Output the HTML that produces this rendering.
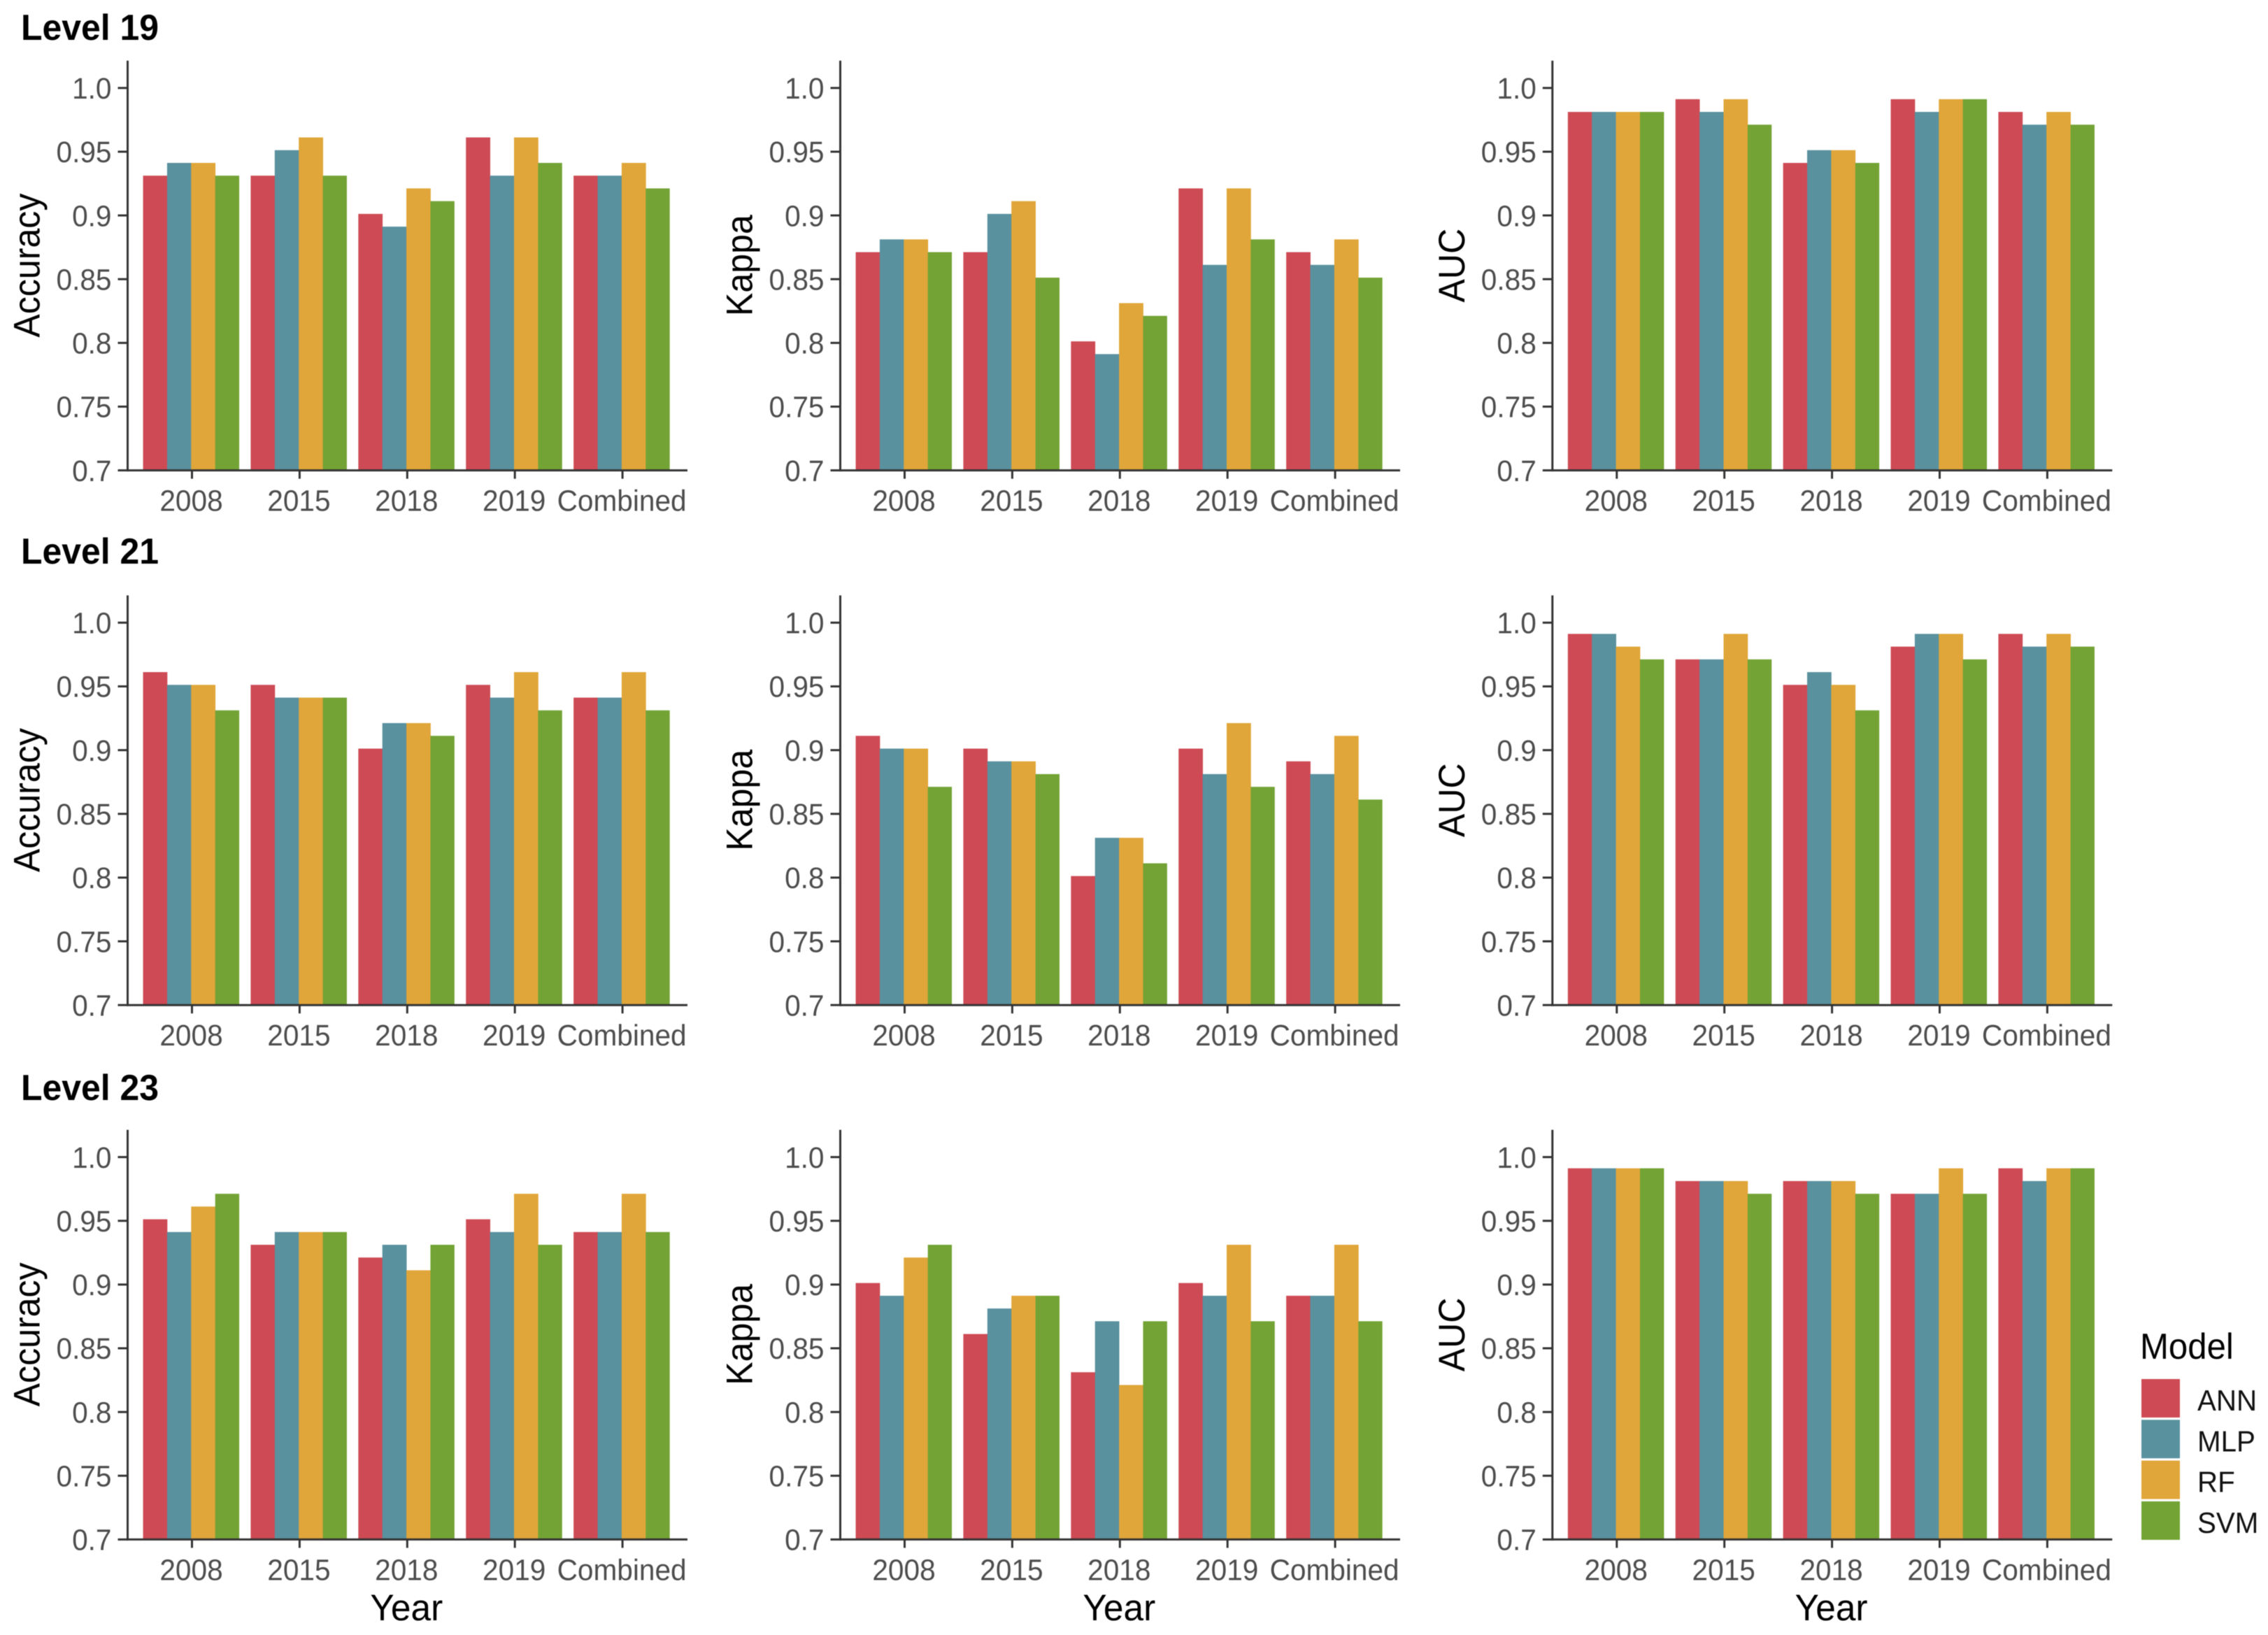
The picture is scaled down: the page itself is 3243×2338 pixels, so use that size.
<!DOCTYPE html>
<html lang="en">
<head>
<meta charset="utf-8">
<title>Model performance by level and year</title>
<style>
html,body{margin:0;padding:0;background:#fff;width:3243px;height:2338px;overflow:hidden}
svg{display:block;filter:blur(0.5px)}
text{font-family:"Liberation Sans",Arial,sans-serif;text-rendering:geometricPrecision}
</style>
</head>
<body>
<svg id="chart" width="3243" height="2338" viewBox="0 0 3243 2338" xmlns="http://www.w3.org/2000/svg"></svg>
<script>
const years = ["2008", "2015", "2018", "2019", "Combined"];
const models = ["ANN", "MLP", "RF", "SVM"];
const modelColors = ["#CE4B55", "#59919F", "#E0A63A", "#73A335"];
const tickValues = [1.0, 0.95, 0.9, 0.85, 0.8, 0.75, 0.7];
const tickLabels = ["1.0", "0.95", "0.9", "0.85", "0.8", "0.75", "0.7"];
const levels = ["Level 19", "Level 21", "Level 23"];
const metrics = ["Accuracy", "Kappa", "AUC"];

const level19Accuracy = [[0.93,0.94,0.94,0.93],[0.93,0.95,0.96,0.93],[0.90,0.89,0.92,0.91],[0.96,0.93,0.96,0.94],[0.93,0.93,0.94,0.92]];
const level19Kappa    = [[0.87,0.88,0.88,0.87],[0.87,0.90,0.91,0.85],[0.80,0.79,0.83,0.82],[0.92,0.86,0.92,0.88],[0.87,0.86,0.88,0.85]];
const level19AUC      = [[0.98,0.98,0.98,0.98],[0.99,0.98,0.99,0.97],[0.94,0.95,0.95,0.94],[0.99,0.98,0.99,0.99],[0.98,0.97,0.98,0.97]];
const level21Accuracy = [[0.96,0.95,0.95,0.93],[0.95,0.94,0.94,0.94],[0.90,0.92,0.92,0.91],[0.95,0.94,0.96,0.93],[0.94,0.94,0.96,0.93]];
const level21Kappa    = [[0.91,0.90,0.90,0.87],[0.90,0.89,0.89,0.88],[0.80,0.83,0.83,0.81],[0.90,0.88,0.92,0.87],[0.89,0.88,0.91,0.86]];
const level21AUC      = [[0.99,0.99,0.98,0.97],[0.97,0.97,0.99,0.97],[0.95,0.96,0.95,0.93],[0.98,0.99,0.99,0.97],[0.99,0.98,0.99,0.98]];
const level23Accuracy = [[0.95,0.94,0.96,0.97],[0.93,0.94,0.94,0.94],[0.92,0.93,0.91,0.93],[0.95,0.94,0.97,0.93],[0.94,0.94,0.97,0.94]];
const level23Kappa    = [[0.90,0.89,0.92,0.93],[0.86,0.88,0.89,0.89],[0.83,0.87,0.82,0.87],[0.90,0.89,0.93,0.87],[0.89,0.89,0.93,0.87]];
const level23AUC      = [[0.99,0.99,0.99,0.99],[0.98,0.98,0.98,0.97],[0.98,0.98,0.98,0.97],[0.97,0.97,0.99,0.97],[0.99,0.98,0.99,0.99]];

const panelData = [
  [level19Accuracy, level19Kappa, level19AUC],
  [level21Accuracy, level21Kappa, level21AUC],
  [level23Accuracy, level23Kappa, level23AUC]
];

const SVG_NS = "http://www.w3.org/2000/svg";
const root = document.getElementById("chart");
const AXIS = "#333333", TICK_TEXT = "#4D4D4D", TITLE = "#000000";
const AXIS_W = 3;

const colLeft = [182.5, 1201.5, 2219.8];
const rowBase = [672.6, 1437.2, 2201.4];
const rowHead = [57, 806, 1573];
const Y_MIN = 0.7, Y_MAX = 1.0, Y_SPAN = 546.8, BAR_TOP_SHIFT = 2.2;
const UNIT = 153.9, X_PAD = 92, X_WIDTH = 800.5, BAR_GROUP = 137.5;

function yScale(v, base) { return base - (v - Y_MIN) / (Y_MAX - Y_MIN) * Y_SPAN; }
function xScale(i, left) { return left + X_PAD + i * UNIT; }

function make(parent, tag, attrs, content) {
  const el = document.createElementNS(SVG_NS, tag);
  for (const k in attrs) el.setAttribute(k, attrs[k]);
  if (content !== undefined) el.textContent = content;
  parent.appendChild(el);
  return el;
}

function label(parent, str, x, y, size, squeeze, fill, anchor, weight, turned) {
  const turn = turned ? " rotate(-90)" : "";
  return make(parent, "text", {
    transform: "translate(" + x + " " + y + ")" + turn + " scale(" + squeeze + " 1)",
    "font-size": size,
    "font-weight": weight,
    fill: fill,
    "text-anchor": anchor
  }, str);
}

levels.forEach(function (level, r) {
  const heading = label(root, level, 30, rowHead[r], 52, 0.96, TITLE, "start", "bold", false);
  
  

  metrics.forEach(function (metric, c) {
    const left = colLeft[c], base = rowBase[r];
    const panel = make(root, "g", {});
    
    

    const values = panelData[r][c];
    values.forEach(function (group, i) {
      const centre = xScale(i, left) - 1.2;
      const bw = BAR_GROUP / models.length;
      group.forEach(function (v, m) {
        const top = yScale(v, base) - BAR_TOP_SHIFT;
        const bar = make(panel, "rect", {
          x: (centre - BAR_GROUP / 2 + m * bw).toFixed(2),
          y: top.toFixed(2),
          width: (bw + (m < models.length - 1 ? 0.4 : 0)).toFixed(2),
          height: (base - top).toFixed(2),
          fill: modelColors[m]
        });
        
        
      });
    });

    const yAxis = make(panel, "line", {x1: left, x2: left, y1: yScale(Y_MAX, base) - 39, y2: base + 1.5, stroke: AXIS, "stroke-width": AXIS_W});
    
    

    const xAxis = make(panel, "line", {x1: left, x2: left + X_WIDTH, y1: base, y2: base, stroke: AXIS, "stroke-width": AXIS_W});
    
    

    tickValues.forEach(function (t, i) {
      const ty = yScale(t, base);
      const tick = make(panel, "line", {x1: left - 14, x2: left, y1: ty, y2: ty, stroke: AXIS, "stroke-width": AXIS_W});
      
      
      const tickText = label(panel, tickLabels[i], left - 23, ty + 15.2, 42.5, 0.955, TICK_TEXT, "end", "normal", false);
      
      
    });

    years.forEach(function (yr, i) {
      const tx = xScale(i, left);
      const tick = make(panel, "line", {x1: tx, x2: tx, y1: base, y2: base + 12, stroke: AXIS, "stroke-width": AXIS_W});
      
      
      const tickText = label(panel, yr, tx - 1, base + 58, 42.5, 0.955, TICK_TEXT, "middle", "normal", false);
      
      
    });

    const yTitle = label(panel, metric, left - 126, base - 293, 53, 0.945, TITLE, "middle", "normal", true);
    
    

    if (r === levels.length - 1) {
      const xTitle = label(panel, "Year", xScale(2, left) - 1, 2317, 53, 0.97, TITLE, "middle", "normal", false);
      
      
    }
  });
});

const legend = make(root, "g", {});



const legendTitle = label(legend, "Model", 3060, 1943, 52, 0.945, TITLE, "start", "normal", false);



models.forEach(function (name, i) {
  const sy = 1972 + i * 58.3;
  const swatch = make(legend, "rect", {x: 3062, y: sy, width: 55, height: 55, fill: modelColors[i]});
  
  
  const entry = label(legend, name, 3142, sy + 45, 42, 0.96, "#111111", "start", "normal", false);
  
  
});
</script>
</body>
</html>
